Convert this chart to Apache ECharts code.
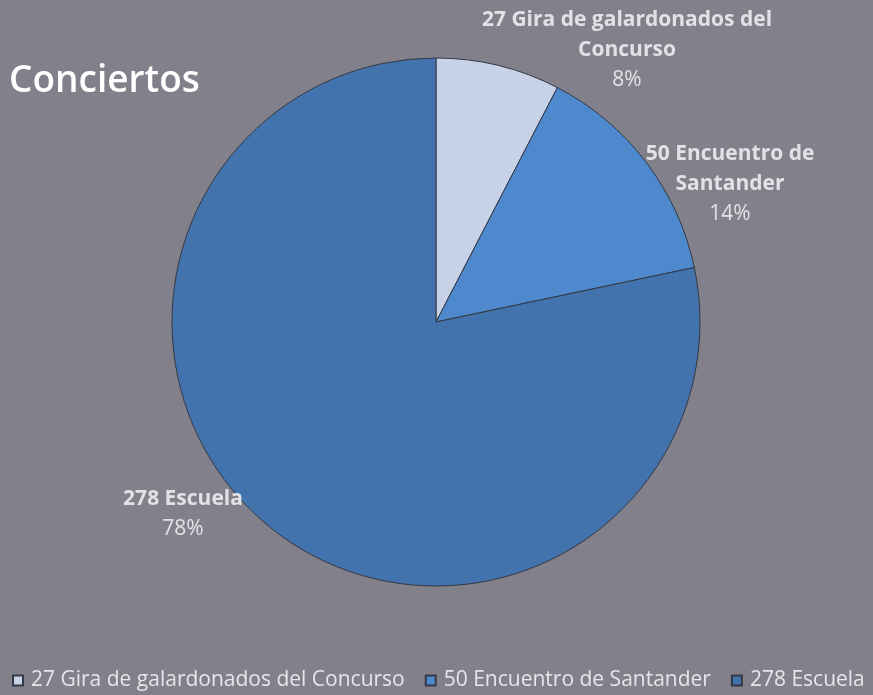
<!DOCTYPE html>
<html><head><meta charset="utf-8">
<script src="https://cdn.jsdelivr.net/npm/echarts@6/dist/echarts.min.js"></script>
<style>html,body{margin:0;padding:0;background:#82818b;}#c{width:873px;height:695px;}</style>
</head><body><div id="c"></div>
<script>
const categories = ["27 Gira de galardonados del Concurso", "50 Encuentro de Santander", "278 Escuela"];
const labelNames = ["27 Gira de galardonados del\nConcurso", "50 Encuentro de\nSantander", "278 Escuela"];
const values = [27, 50, 278];
const colors = ["#c7d2e8", "#4e89cd", "#4373ac"];
const labelPos = [[627, 50], [730, 184], [183, 514]];

const chart = echarts.init(document.getElementById('c'), null, {renderer: 'canvas'});
chart.setOption({
  backgroundColor: '#82818b',
  animation: false,
  title: {
    text: 'Conciertos', left: 4, top: 58,
    textStyle: {color: '#ffffff', fontSize: 37, fontWeight: 600, fontFamily: 'Open Sans'}
  },
  legend: {
    top: 670, left: 12, padding: 0, itemGap: 20, itemWidth: 10, itemHeight: 10, icon: 'rect',
    textStyle: {color: '#e6e6ea', fontSize: 21, fontFamily: 'Open Sans', padding: [0, 0, 0, 3]},
    data: categories
  },
  series: [{
    type: 'pie',
    center: [436, 322],
    radius: 264,
    startAngle: 90,
    clockwise: true,
    itemStyle: {borderColor: '#333844', borderWidth: 1},
    emphasis: {disabled: true},
    labelLine: {show: false},
    label: {
      show: true, position: 'outside', align: 'center',
      formatter: p => '{b|' + labelNames[p.dataIndex] + '}\n{p|' + Math.round(p.percent) + '%}',
      rich: {
        b: {color: '#e2e2e6', fontSize: 21, fontWeight: 'bold', fontFamily: 'Open Sans', lineHeight: 30, align: 'center'},
        p: {color: '#e2e2e6', fontSize: 21, fontFamily: 'Open Sans', lineHeight: 30, align: 'center'}
      }
    },
    labelLayout: p => ({x: labelPos[p.dataIndex][0], y: labelPos[p.dataIndex][1], align: 'center', verticalAlign: 'middle'}),
    data: categories.map((c, i) => ({name: c, value: values[i], itemStyle: {color: colors[i]}}))
  }]
});
</script></body></html>
